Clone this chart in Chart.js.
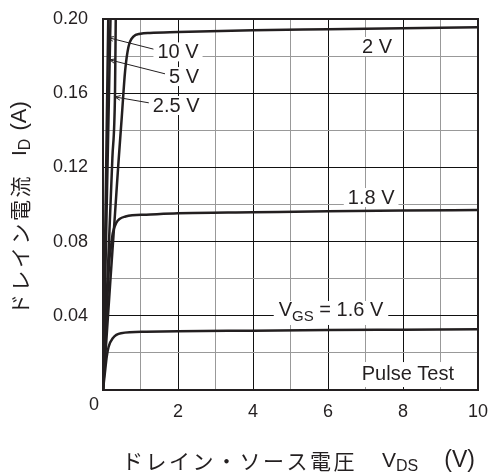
<!DOCTYPE html>
<html>
<head>
<meta charset="utf-8">
<script src="https://cdn.jsdelivr.net/npm/chart.js@4/dist/chart.umd.min.js"></script>
<style>
  html, body { margin: 0; padding: 0; background: #fff; }
  canvas { display: block; }
</style>
</head>
<body>
<canvas id="chart" width="492" height="476"></canvas>
<script>
// drain current ID (A) vs drain-source voltage VDS (V), one pair per VGS
const vds10 = [0, 0.07, 0.14, 0.15];
const id10 = [0, 0.1, 0.2, 0.215];
const vds5 = [0, 0.1, 0.2, 0.22];
const id5 = [0, 0.1, 0.2, 0.22];
const vds25 = [0, 0.12, 0.25, 0.32, 0.34, 0.36];
const id25 = [0, 0.06, 0.125, 0.16, 0.2, 0.24];
const vds20 = [0, 0.1, 0.2, 0.32, 0.41, 0.5, 0.59, 0.68, 0.81, 1.0, 1.25, 2, 4, 6, 8, 10];
const id20 = [0, 0.03, 0.06, 0.095, 0.122, 0.147, 0.172, 0.185, 0.1905, 0.192, 0.1925, 0.193, 0.194, 0.1945, 0.195, 0.1955];
const vds18 = [0, 0.1, 0.17, 0.21, 0.26, 0.35, 0.6, 1.15, 2, 4, 6, 8, 10];
const id18 = [0, 0.042, 0.07, 0.077, 0.0845, 0.09, 0.0935, 0.0945, 0.0953, 0.0958, 0.0963, 0.0967, 0.097];
const vds16 = [0, 0.06, 0.1, 0.15, 0.26, 0.48, 1.15, 2, 4, 6, 8, 10];
const id16 = [0, 0.011, 0.018, 0.0233, 0.0279, 0.0306, 0.0314, 0.0317, 0.032, 0.0323, 0.0325, 0.0327];

const xTicks = [2, 4, 6, 8, 10];
const yTicks = [0.04, 0.08, 0.12, 0.16, 0.2];

// curve labels, in data units (label centre, optional leader tip)
const curveLabels = [
  { text: "10 V", x: 2.0, y: 0.182, tipX: 0.133, tipY: 0.19 },
  { text: "5 V", x: 2.16, y: 0.1687, tipX: 0.178, tipY: 0.178 },
  { text: "2.5 V", x: 1.95, y: 0.1531, tipX: 0.316, tipY: 0.158 },
  { text: "2 V", x: 7.31, y: 0.1849 },
  { text: "1.8 V", x: 7.15, y: 0.1035 },
];

const INK = "#231f20";
const LAT = "'Liberation Sans', Arial, sans-serif";
const JP = "'Noto Sans CJK JP', 'Noto Sans', sans-serif";

function pts(xs, ys) {
  return xs.map((x, i) => ({ x: x, y: ys[i] }));
}

function curve(xs, ys) {
  return {
    data: pts(xs, ys),
    borderColor: INK,
    borderWidth: 2.5,
    pointRadius: 0,
    fill: false,
    cubicInterpolationMode: "monotone",
  };
}

// draws a run of text pieces (some subscripted) starting at x
function drawParts(ctx, parts, x, y) {
  ctx.textBaseline = "middle";
  ctx.textAlign = "left";
  parts.forEach((p) => {
    if (p.gap) {
      x += p.gap;
      return;
    }
    ctx.font = p.font;
    ctx.letterSpacing = p.spacing || "0px";
    ctx.fillText(p.t, x, y + (p.dy || 0));
    x += ctx.measureText(p.t).width;
  });
  ctx.letterSpacing = "0px";
  return x;
}

function partsWidth(ctx, parts) {
  let w = 0;
  parts.forEach((p) => {
    if (p.gap) {
      w += p.gap;
      return;
    }
    ctx.font = p.font;
    ctx.letterSpacing = p.spacing || "0px";
    w += ctx.measureText(p.t).width;
  });
  ctx.letterSpacing = "0px";
  return w;
}

function whiteBox(ctx, x, y, w, h) {
  ctx.fillStyle = "#fff";
  ctx.fillRect(x, y, w, h);
  ctx.fillStyle = INK;
}

const decorations = {
  id: "decorations",
  afterDatasetsDraw(chart) {
    const ctx = chart.ctx;
    const xs = chart.scales.x;
    const ys = chart.scales.y;
    const area = chart.chartArea;
    ctx.save();
    ctx.fillStyle = INK;
    ctx.strokeStyle = INK;

    // curve labels with leaders
    curveLabels.forEach((l) => {
      const cx = xs.getPixelForValue(l.x);
      const cy = ys.getPixelForValue(l.y);
      ctx.font = "20px " + LAT;
      const w = ctx.measureText(l.text).width;
      if (l.tipX !== undefined) {
        const tx = xs.getPixelForValue(l.tipX);
        const ty = ys.getPixelForValue(l.tipY);
        const sx = cx - w / 2 - 3;
        const sy = cy - 3;
        ctx.lineWidth = 1;
        ctx.beginPath();
        ctx.moveTo(sx, sy);
        ctx.lineTo(tx, ty);
        ctx.stroke();
        const a = Math.atan2(sy - ty, sx - tx);
        ctx.beginPath();
        ctx.moveTo(tx + 6 * Math.cos(a + 0.4), ty + 6 * Math.sin(a + 0.4));
        ctx.lineTo(tx, ty);
        ctx.lineTo(tx + 6 * Math.cos(a - 0.4), ty + 6 * Math.sin(a - 0.4));
        ctx.stroke();
      }
      whiteBox(ctx, cx - w / 2 - 4, cy - 10, w + 8, 19);
      ctx.textAlign = "center";
      ctx.textBaseline = "middle";
      ctx.fillText(l.text, cx, cy);
    });

    // VGS = 1.6 V
    const vgs = [
      { t: "V", font: "20px " + LAT },
      { t: "GS", font: "15px " + LAT, dy: 6 },
      { t: " = 1.6 V", font: "20px " + LAT },
    ];
    const vw = partsWidth(ctx, vgs);
    const vx = xs.getPixelForValue(6.08) - vw / 2;
    const vy = ys.getPixelForValue(0.0426);
    whiteBox(ctx, vx - 5, vy - 10, vw + 10, 24);
    drawParts(ctx, vgs, vx, vy);

    // Pulse Test
    ctx.font = "20px " + LAT;
    const pw = ctx.measureText("Pulse Test").width;
    const px = xs.getPixelForValue(8.13);
    const py = ys.getPixelForValue(0.0086);
    whiteBox(ctx, px - pw / 2 - 4, py - 12, pw + 8, 25);
    ctx.textAlign = "center";
    ctx.textBaseline = "middle";
    ctx.fillText("Pulse Test", px, py);

    // frame
    ctx.lineWidth = 2;
    ctx.strokeRect(area.left, area.top, area.right - area.left, area.bottom - area.top);
    ctx.restore();
  },
  afterDraw(chart) {
    const ctx = chart.ctx;
    const area = chart.chartArea;
    ctx.save();
    ctx.fillStyle = INK;

    // shared origin label
    ctx.font = "18px " + LAT;
    ctx.textAlign = "center";
    ctx.textBaseline = "middle";
    ctx.fillText("0", area.left - 9, area.bottom + 15);

    // x axis title
    const xt = [
      { t: "ドレイン・ソース電圧", font: "21px " + JP, spacing: "2.5px" },
      { gap: 25 },
      { t: "V", font: "21px " + LAT },
      { t: "DS", font: "16px " + LAT, dy: 6 },
      { gap: 26 },
      { t: "(V)", font: "23px " + LAT },
    ];
    drawParts(ctx, xt, area.left + 19, 461);

    // y axis title
    const yt = [
      { t: "ドレイン電流", font: "21px " + JP, spacing: "2.5px" },
      { gap: 18 },
      { t: "I", font: "21px " + LAT },
      { t: "D", font: "16px " + LAT, dy: 6 },
      { gap: 8 },
      { t: "(A)", font: "22px " + LAT },
    ];
    ctx.translate(20, 315);
    ctx.rotate(-Math.PI / 2);
    drawParts(ctx, yt, 0, 0);
    ctx.restore();
  },
};

new Chart(document.getElementById("chart"), {
  type: "line",
  data: {
    datasets: [
      curve(vds10, id10),
      curve(vds5, id5),
      curve(vds25, id25),
      curve(vds20, id20),
      curve(vds18, id18),
      curve(vds16, id16),
    ],
  },
  options: {
    responsive: false,
    animation: false,
    devicePixelRatio: 1,
    layout: { padding: { left: 0, right: 14, top: 19, bottom: 0 } },
    plugins: {
      legend: { display: false },
      tooltip: { enabled: false },
    },
    scales: {
      x: {
        type: "linear",
        min: 0,
        max: 10,
        ticks: {
          stepSize: 1,
          autoSkip: false,
          maxRotation: 0,
          padding: 11,
          color: INK,
          font: { family: LAT, size: 18 },
          callback: (v) => (xTicks.includes(v) ? String(v) : ""),
        },
        grid: {
          drawTicks: false,
          lineWidth: 1,
          color: (c) => (c.tick && c.tick.value % 2 === 0 ? "#111" : "#999"),
        },
        border: { display: false },
        afterFit: (s) => {
          s.height = 86;
          s.paddingLeft = 0;
          s.paddingRight = 0;
        },
      },
      y: {
        min: 0,
        max: 0.2,
        ticks: {
          stepSize: 0.02,
          autoSkip: false,
          padding: 15,
          color: INK,
          font: { family: LAT, size: 18 },
          callback: (v) => {
            const k = Math.round(v * 100);
            return yTicks.some((t) => Math.round(t * 100) === k) ? v.toFixed(2) : "";
          },
        },
        grid: {
          drawTicks: false,
          lineWidth: 1,
          color: (c) => (c.tick && Math.round(c.tick.value * 100) % 4 === 0 ? "#111" : "#999"),
        },
        border: { display: false },
        afterFit: (s) => {
          s.width = 103;
          s.paddingTop = 0;
          s.paddingBottom = 0;
        },
      },
    },
  },
  plugins: [decorations],
});
</script>
</body>
</html>
